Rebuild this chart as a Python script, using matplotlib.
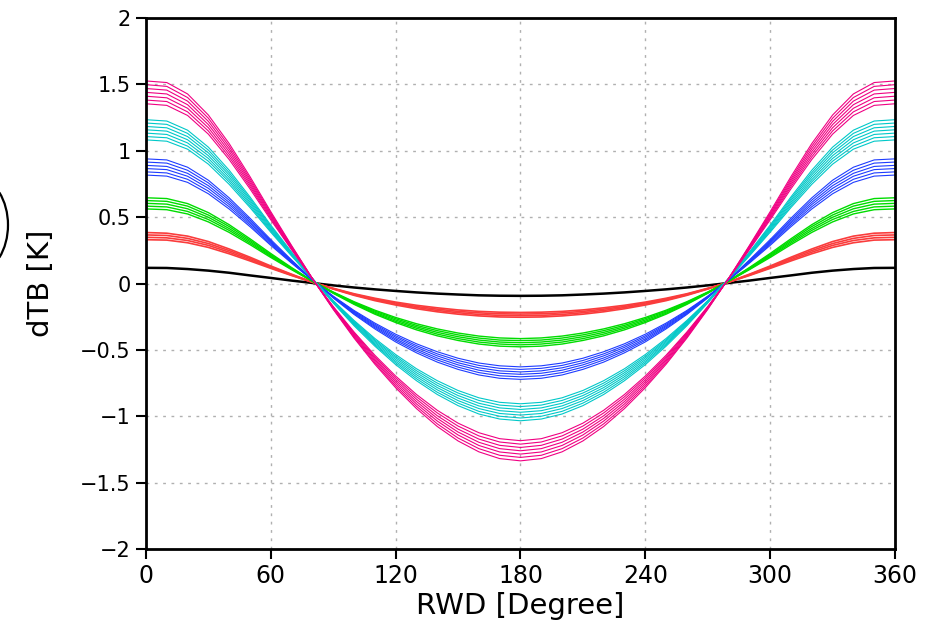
import matplotlib
matplotlib.use('Agg')
import matplotlib.pyplot as plt
from matplotlib.patches import Arc
from matplotlib.transforms import IdentityTransform

plt.rcParams['font.family'] = 'DejaVu Sans'

# relative wind direction (degree)
rwd = [0, 10, 20, 30, 40, 50, 60, 70, 80, 90, 100, 110, 120, 130, 140, 150, 160, 170, 180,
       190, 200, 210, 220, 230, 240, 250, 260, 270, 280, 290, 300, 310, 320, 330, 340, 350, 360]

# dTB [K], one row per curve
black_lines = [
    [0.118, 0.117, 0.109, 0.097, 0.081, 0.061, 0.042, 0.022, 0.004, -0.014, -0.030, -0.044, -0.056, -0.067, -0.076, -0.083, -0.089, -0.092, -0.093,
     -0.092, -0.089, -0.083, -0.076, -0.067, -0.056, -0.044, -0.030, -0.014, 0.004, 0.022, 0.042, 0.061, 0.081, 0.097, 0.109, 0.117, 0.118],
]
red_lines = [
    [0.330, 0.327, 0.307, 0.272, 0.224, 0.170, 0.114, 0.060, 0.009, -0.036, -0.077, -0.111, -0.140, -0.164, -0.183, -0.199, -0.210, -0.216, -0.218,
     -0.216, -0.210, -0.199, -0.183, -0.164, -0.140, -0.111, -0.077, -0.036, 0.009, 0.060, 0.114, 0.170, 0.224, 0.272, 0.307, 0.327, 0.330],
    [0.348, 0.344, 0.324, 0.287, 0.236, 0.179, 0.120, 0.063, 0.010, -0.038, -0.081, -0.117, -0.147, -0.173, -0.193, -0.210, -0.221, -0.228, -0.230,
     -0.228, -0.221, -0.210, -0.193, -0.173, -0.147, -0.117, -0.081, -0.038, 0.010, 0.063, 0.120, 0.179, 0.236, 0.287, 0.324, 0.344, 0.348],
    [0.366, 0.362, 0.340, 0.301, 0.248, 0.189, 0.126, 0.067, 0.010, -0.040, -0.085, -0.123, -0.155, -0.181, -0.203, -0.220, -0.233, -0.240, -0.242,
     -0.240, -0.233, -0.220, -0.203, -0.181, -0.155, -0.123, -0.085, -0.040, 0.010, 0.067, 0.126, 0.189, 0.248, 0.301, 0.340, 0.362, 0.366],
    [0.384, 0.379, 0.357, 0.316, 0.260, 0.198, 0.132, 0.070, 0.011, -0.042, -0.089, -0.129, -0.162, -0.190, -0.213, -0.231, -0.244, -0.252, -0.254,
     -0.252, -0.244, -0.231, -0.213, -0.190, -0.162, -0.129, -0.089, -0.042, 0.011, 0.070, 0.132, 0.198, 0.260, 0.316, 0.357, 0.379, 0.384],
]
green_lines = [
    [0.562, 0.556, 0.524, 0.464, 0.385, 0.293, 0.196, 0.104, 0.017, -0.064, -0.137, -0.201, -0.256, -0.303, -0.342, -0.373, -0.396, -0.410, -0.415,
     -0.410, -0.396, -0.373, -0.342, -0.303, -0.256, -0.201, -0.137, -0.064, 0.017, 0.104, 0.196, 0.293, 0.385, 0.464, 0.524, 0.556, 0.562],
    [0.583, 0.577, 0.543, 0.482, 0.400, 0.304, 0.204, 0.108, 0.017, -0.067, -0.142, -0.208, -0.265, -0.315, -0.355, -0.387, -0.411, -0.426, -0.430,
     -0.426, -0.411, -0.387, -0.355, -0.315, -0.265, -0.208, -0.142, -0.067, 0.017, 0.108, 0.204, 0.304, 0.400, 0.482, 0.543, 0.577, 0.583],
    [0.604, 0.598, 0.563, 0.499, 0.414, 0.315, 0.211, 0.112, 0.018, -0.069, -0.147, -0.216, -0.275, -0.326, -0.368, -0.401, -0.426, -0.441, -0.446,
     -0.441, -0.426, -0.401, -0.368, -0.326, -0.275, -0.216, -0.147, -0.069, 0.018, 0.112, 0.211, 0.315, 0.414, 0.499, 0.563, 0.598, 0.604],
    [0.625, 0.619, 0.583, 0.516, 0.429, 0.326, 0.218, 0.116, 0.019, -0.071, -0.152, -0.224, -0.285, -0.337, -0.381, -0.415, -0.441, -0.456, -0.462,
     -0.456, -0.441, -0.415, -0.381, -0.337, -0.285, -0.224, -0.152, -0.071, 0.019, 0.116, 0.218, 0.326, 0.429, 0.516, 0.583, 0.619, 0.625],
    [0.646, 0.640, 0.602, 0.534, 0.443, 0.337, 0.226, 0.120, 0.019, -0.074, -0.157, -0.231, -0.294, -0.349, -0.394, -0.429, -0.456, -0.472, -0.477,
     -0.472, -0.456, -0.429, -0.394, -0.349, -0.294, -0.231, -0.157, -0.074, 0.019, 0.120, 0.226, 0.337, 0.443, 0.534, 0.602, 0.640, 0.646],
]
blue_lines = [
    [0.817, 0.809, 0.762, 0.676, 0.561, 0.428, 0.287, 0.153, 0.025, -0.095, -0.203, -0.298, -0.382, -0.454, -0.514, -0.563, -0.599, -0.620, -0.628,
     -0.620, -0.599, -0.563, -0.514, -0.454, -0.382, -0.298, -0.203, -0.095, 0.025, 0.153, 0.287, 0.428, 0.561, 0.676, 0.762, 0.809, 0.817],
    [0.841, 0.833, 0.785, 0.696, 0.578, 0.441, 0.296, 0.158, 0.026, -0.098, -0.209, -0.307, -0.394, -0.468, -0.530, -0.580, -0.617, -0.639, -0.647,
     -0.639, -0.617, -0.580, -0.530, -0.468, -0.394, -0.307, -0.209, -0.098, 0.026, 0.158, 0.296, 0.441, 0.578, 0.696, 0.785, 0.833, 0.841],
    [0.866, 0.858, 0.808, 0.717, 0.595, 0.454, 0.305, 0.163, 0.027, -0.101, -0.215, -0.316, -0.405, -0.481, -0.545, -0.597, -0.635, -0.658, -0.666,
     -0.658, -0.635, -0.597, -0.545, -0.481, -0.405, -0.316, -0.215, -0.101, 0.027, 0.163, 0.305, 0.454, 0.595, 0.717, 0.808, 0.858, 0.866],
    [0.890, 0.882, 0.830, 0.737, 0.611, 0.466, 0.313, 0.167, 0.027, -0.103, -0.221, -0.324, -0.417, -0.495, -0.561, -0.613, -0.653, -0.676, -0.684,
     -0.676, -0.653, -0.613, -0.561, -0.495, -0.417, -0.324, -0.221, -0.103, 0.027, 0.167, 0.313, 0.466, 0.611, 0.737, 0.830, 0.882, 0.890],
    [0.915, 0.907, 0.853, 0.758, 0.628, 0.479, 0.322, 0.172, 0.028, -0.106, -0.227, -0.333, -0.428, -0.508, -0.576, -0.630, -0.671, -0.695, -0.703,
     -0.695, -0.671, -0.630, -0.576, -0.508, -0.428, -0.333, -0.227, -0.106, 0.028, 0.172, 0.322, 0.479, 0.628, 0.758, 0.853, 0.907, 0.915],
    [0.939, 0.931, 0.876, 0.778, 0.645, 0.492, 0.331, 0.177, 0.029, -0.109, -0.233, -0.342, -0.440, -0.522, -0.592, -0.647, -0.689, -0.714, -0.722,
     -0.714, -0.689, -0.647, -0.592, -0.522, -0.440, -0.342, -0.233, -0.109, 0.029, 0.177, 0.331, 0.492, 0.645, 0.778, 0.876, 0.931, 0.939],
]
cyan_lines = [
    [1.082, 1.072, 1.012, 0.899, 0.747, 0.572, 0.386, 0.207, 0.034, -0.129, -0.278, -0.414, -0.535, -0.642, -0.732, -0.806, -0.861, -0.895, -0.906,
     -0.895, -0.861, -0.806, -0.732, -0.642, -0.535, -0.414, -0.278, -0.129, 0.034, 0.207, 0.386, 0.572, 0.747, 0.899, 1.012, 1.072, 1.082],
    [1.107, 1.098, 1.035, 0.921, 0.765, 0.585, 0.395, 0.212, 0.034, -0.132, -0.285, -0.424, -0.548, -0.657, -0.750, -0.825, -0.881, -0.916, -0.927,
     -0.916, -0.881, -0.825, -0.750, -0.657, -0.548, -0.424, -0.285, -0.132, 0.034, 0.212, 0.395, 0.585, 0.765, 0.921, 1.035, 1.098, 1.107],
    [1.133, 1.123, 1.059, 0.942, 0.782, 0.599, 0.404, 0.217, 0.035, -0.135, -0.291, -0.433, -0.560, -0.672, -0.767, -0.844, -0.902, -0.937, -0.949,
     -0.937, -0.902, -0.844, -0.767, -0.672, -0.560, -0.433, -0.291, -0.135, 0.035, 0.217, 0.404, 0.599, 0.782, 0.942, 1.059, 1.123, 1.133],
    [1.158, 1.148, 1.083, 0.963, 0.800, 0.612, 0.413, 0.222, 0.036, -0.138, -0.298, -0.443, -0.573, -0.687, -0.784, -0.863, -0.922, -0.958, -0.970,
     -0.958, -0.922, -0.863, -0.784, -0.687, -0.573, -0.443, -0.298, -0.138, 0.036, 0.222, 0.413, 0.612, 0.800, 0.963, 1.083, 1.148, 1.158],
    [1.183, 1.173, 1.107, 0.984, 0.818, 0.626, 0.422, 0.227, 0.037, -0.141, -0.305, -0.453, -0.586, -0.702, -0.801, -0.882, -0.942, -0.979, -0.991,
     -0.979, -0.942, -0.882, -0.801, -0.702, -0.586, -0.453, -0.305, -0.141, 0.037, 0.227, 0.422, 0.626, 0.818, 0.984, 1.107, 1.173, 1.183],
    [1.209, 1.199, 1.131, 1.005, 0.835, 0.639, 0.431, 0.232, 0.038, -0.144, -0.311, -0.462, -0.598, -0.717, -0.819, -0.901, -0.963, -1.000, -1.013,
     -1.000, -0.963, -0.901, -0.819, -0.717, -0.598, -0.462, -0.311, -0.144, 0.038, 0.232, 0.431, 0.639, 0.835, 1.005, 1.131, 1.199, 1.209],
    [1.234, 1.224, 1.155, 1.027, 0.853, 0.652, 0.440, 0.237, 0.038, -0.147, -0.318, -0.472, -0.611, -0.732, -0.836, -0.920, -0.983, -1.021, -1.034,
     -1.021, -0.983, -0.920, -0.836, -0.732, -0.611, -0.472, -0.318, -0.147, 0.038, 0.237, 0.440, 0.652, 0.853, 1.027, 1.155, 1.224, 1.234],
]
pink_lines = [
    [1.354, 1.342, 1.266, 1.125, 0.934, 0.713, 0.479, 0.254, 0.034, -0.173, -0.365, -0.540, -0.697, -0.836, -0.955, -1.052, -1.124, -1.169, -1.184,
     -1.169, -1.124, -1.052, -0.955, -0.836, -0.697, -0.540, -0.365, -0.173, 0.034, 0.254, 0.479, 0.713, 0.934, 1.125, 1.266, 1.342, 1.354],
    [1.382, 1.371, 1.293, 1.149, 0.954, 0.729, 0.490, 0.259, 0.035, -0.177, -0.372, -0.551, -0.711, -0.853, -0.975, -1.074, -1.148, -1.194, -1.210,
     -1.194, -1.148, -1.074, -0.975, -0.853, -0.711, -0.551, -0.372, -0.177, 0.035, 0.259, 0.490, 0.729, 0.954, 1.149, 1.293, 1.371, 1.382],
    [1.411, 1.399, 1.320, 1.173, 0.974, 0.744, 0.500, 0.265, 0.035, -0.180, -0.380, -0.563, -0.726, -0.871, -0.996, -1.097, -1.172, -1.219, -1.235,
     -1.219, -1.172, -1.097, -0.996, -0.871, -0.726, -0.563, -0.380, -0.180, 0.035, 0.265, 0.500, 0.744, 0.974, 1.173, 1.320, 1.399, 1.411],
    [1.440, 1.428, 1.347, 1.197, 0.994, 0.759, 0.510, 0.270, 0.036, -0.184, -0.388, -0.574, -0.741, -0.889, -1.016, -1.119, -1.196, -1.244, -1.260,
     -1.244, -1.196, -1.119, -1.016, -0.889, -0.741, -0.574, -0.388, -0.184, 0.036, 0.270, 0.510, 0.759, 0.994, 1.197, 1.347, 1.428, 1.440],
    [1.469, 1.457, 1.374, 1.221, 1.014, 0.774, 0.520, 0.275, 0.037, -0.188, -0.396, -0.585, -0.756, -0.907, -1.036, -1.141, -1.220, -1.269, -1.285,
     -1.269, -1.220, -1.141, -1.036, -0.907, -0.756, -0.585, -0.396, -0.188, 0.037, 0.275, 0.520, 0.774, 1.014, 1.221, 1.374, 1.457, 1.469],
    [1.498, 1.485, 1.401, 1.245, 1.034, 0.789, 0.530, 0.281, 0.037, -0.191, -0.404, -0.597, -0.771, -0.925, -1.057, -1.164, -1.244, -1.294, -1.310,
     -1.294, -1.244, -1.164, -1.057, -0.925, -0.771, -0.597, -0.404, -0.191, 0.037, 0.281, 0.530, 0.789, 1.034, 1.245, 1.401, 1.485, 1.498],
    [1.526, 1.514, 1.428, 1.269, 1.054, 0.805, 0.541, 0.286, 0.038, -0.195, -0.411, -0.608, -0.785, -0.942, -1.077, -1.186, -1.268, -1.319, -1.336,
     -1.319, -1.268, -1.186, -1.077, -0.942, -0.785, -0.608, -0.411, -0.195, 0.038, 0.286, 0.541, 0.805, 1.054, 1.269, 1.428, 1.514, 1.526],
]

xticks = [0, 60, 120, 180, 240, 300, 360]
yticks = [-2, -1.5, -1, -0.5, 0, 0.5, 1, 1.5, 2]
ytick_labels = ['\u22122', '\u22121.5', '\u22121', '\u22120.5', '0', '0.5', '1', '1.5', '2']

# GrADS default colours
bundles = [
    (black_lines, '#000000', 1.8),
    (red_lines, '#FA3C3C', 1.2),
    (green_lines, '#00DC00', 1.0),
    (blue_lines, '#1E3CFF', 0.8),
    (cyan_lines, '#00C8C8', 0.8),
    (pink_lines, '#F00082', 0.8),
]

fig = plt.figure(figsize=(9.31, 6.28), dpi=100)
ax = fig.add_axes([0.1568, 0.1258, 0.8045, 0.8455])

for lines, color, lw in bundles:
    for row in lines:
        ax.plot(rwd, row, color=color, lw=lw)

ax.set_xlim(0, 360)
ax.set_ylim(-2, 2)
ax.set_xticks(xticks)
ax.set_yticks(yticks)
ax.set_yticklabels(ytick_labels)
ax.grid(True, color='#b0b0b0', linestyle=(0, (2, 4)), lw=1.0)
ax.set_axisbelow(True)

for sp in ax.spines.values():
    sp.set_linewidth(2)
ax.tick_params(direction='out', length=7, width=1.5,
               top=False, right=False, pad=4)
ax.tick_params(axis='y', labelsize=15)
ax.tick_params(axis='x', labelsize=17)

ax.set_xlabel('RWD [Degree]', fontsize=21, labelpad=3)
ax.set_ylabel('dTB [K]', fontsize=21, labelpad=18)

# cut-off circle at the left edge
fig.add_artist(Arc((-28, 403), 72, 100, theta1=-50, theta2=50,
                   color='black', lw=1.6, transform=IdentityTransform()))

fig.savefig('out.png', dpi=100)
